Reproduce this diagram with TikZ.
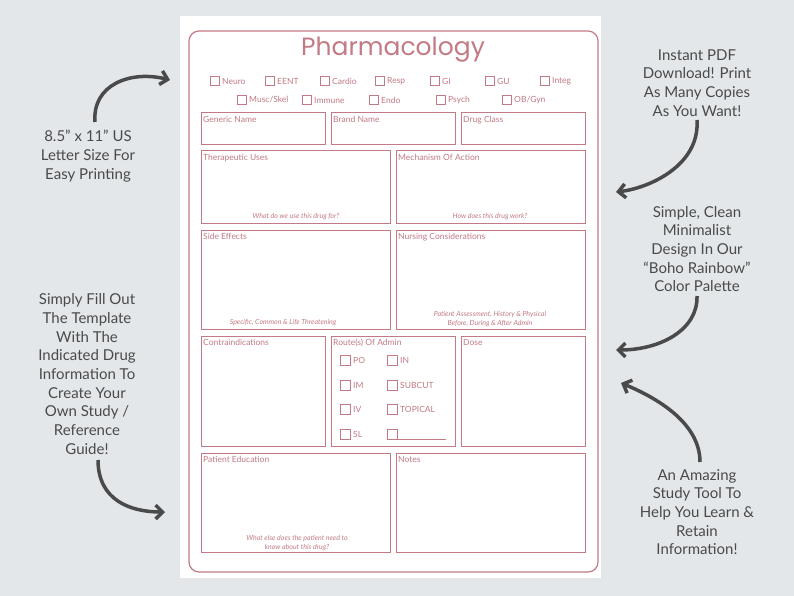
\documentclass[tikz,border=0pt]{standalone}
\usepackage{fontspec}
\setmainfont{Lato}
\newfontfamily\pop{Poppins}
\usetikzlibrary{arrows.meta}
\definecolor{bg}{HTML}{E3E7EA}
\definecolor{pk}{HTML}{C27A84}
\definecolor{dg}{HTML}{4A4A4A}
\begin{document}
\begin{tikzpicture}[x=1pt,y=-1pt,
  box/.style={draw=pk,line width=1pt},
  lab/.style={text=pk,font=\fontsize{8.5}{9}\selectfont,anchor=north west,inner sep=0pt},
  sub/.style={text=pk,font=\fontsize{7}{8.5}\selectfont\itshape,align=center,inner sep=0pt},
  cb/.style={draw=pk,line width=0.8pt,minimum size=9pt,inner sep=0pt},
  cbl/.style={text=pk,font=\fontsize{8.5}{9}\selectfont,anchor=west,inner sep=0pt},
  side/.style={text=dg,font=\fontsize{15}{18.7}\selectfont,align=center},
  arr/.style={draw=dg,line width=3.5pt,-{Straight Barb[length=7pt,width=14pt,line width=3.5pt]}}]
\fill[bg] (0,0) rectangle (794,596);
\useasboundingbox (0,0) rectangle (794,596);
\fill[white] (180,16) rectangle (601,578);
\draw[pk,line width=1.2pt,rounded corners=10pt] (189,31) rectangle (598,572);
\node[text=pk,font=\pop\fontsize{25}{28}\selectfont] (title) at (393,50) {Pharmacology};
% checkboxes row 1
\foreach \x/\t/\n in {215/Neuro/a,270/EENT/b,325/Cardio/c,380/Resp/d,435/GI/e,490/GU/f,545/Integ/g}{
  \node[cb] (cb\n) at (\x,81) {};
  \node[cbl] (cl\n) at (\x+7,81) {\t};}
\foreach \x/\t/\n in {242/{Musc/Skel}/h,307/Immune/i,374/Endo/j,441/Psych/k,507/{OB/Gyn}/l}{
  \node[cb] (cb\n) at (\x,100) {};
  \node[cbl] (cl\n) at (\x+7,100) {\t};}
% boxes
\draw[box] (201,113) rectangle (325,145); \node[lab] (l1) at (203,116) {Generic Name};
\draw[box] (331,113) rectangle (455,145); \node[lab] (l2) at (333,116) {Brand Name};
\draw[box] (461,113) rectangle (585,145); \node[lab] (l3) at (463,116) {Drug Class};
\draw[box] (201,151) rectangle (390,223); \node[lab] (l4) at (203,154) {Therapeutic Uses};
\node[sub] (s4) at (296,217) {What do we use this drug for?};
\draw[box] (396,151) rectangle (585,223); \node[lab] (l5) at (398,154) {Mechanism Of Action};
\node[sub] (s5) at (490,217) {How does this drug work?};
\draw[box] (201,230) rectangle (390,329); \node[lab] (l6) at (203,233) {Side Effects};
\node[sub] (s6) at (283,323) {Specific, Common \& Life Threatening};
\draw[box] (396,230) rectangle (585,329); \node[lab] (l7) at (398,233) {Nursing Considerations};
\node[sub] (s7) at (490,319) {Patient Assessment, History \& Physical\\Before, During \& After Admin};
\draw[box] (201,336) rectangle (325,446); \node[lab] (l8) at (203,339) {Contraindications};
\draw[box] (331,336) rectangle (455,446); \node[lab] (l9) at (333,339) {Route(s) Of Admin};
\draw[box] (461,336) rectangle (585,446); \node[lab] (l10) at (463,339) {Dose};
\foreach \y/\a/\b/\n in {360/PO/IN/1,385/IM/SUBCUT/2,409/IV/TOPICAL/3,434/SL//4}{
  \node[cb,minimum size=10pt] (ra\n) at (345,\y) {};
  \node[cbl] (rla\n) at (353,\y) {\a};
  \node[cb,minimum size=10pt] (rb\n) at (392,\y) {};
  \node[cbl] (rlb\n) at (400,\y) {\b};}
\draw[pk,line width=0.8pt] (398,439) -- (446,439);
\draw[box] (201,453) rectangle (390,552); \node[lab] (l11) at (203,456) {Patient Education};
\node[sub] (s11) at (297,543) {What else does the patient need to\\know about this drug?};
\draw[box] (396,453) rectangle (585,552); \node[lab] (l12) at (398,456) {Notes};
% side texts
\node[side] (t1) at (88,156) {8.5\symbol{34} x 11\symbol{34} US\\Letter Size For\\Easy Printing};
\node[side] (t2) at (87,374) {Simply Fill Out\\The Template\\With The\\Indicated Drug\\Information To\\Create Your\\Own Study /\\Reference\\Guide!};
\node[side] (t3) at (697,83) {Instant PDF\\Download! Print\\As Many Copies\\As You Want!};
\node[side] (t4) at (697,249) {Simple, Clean\\Minimalist\\Design In Our\\“Boho Rainbow”\\Color Palette};
\node[side] (t5) at (697,512) {An Amazing\\Study Tool To\\Help You Learn \&\\Retain\\Information!};
% arrows
\coordinate (a1) at (170,80); \coordinate (a2) at (165,512);
\coordinate (a3) at (616,192); \coordinate (a4) at (616,350); \coordinate (a5) at (621,383);
\draw[arr] (95,122) .. controls (92,85) and (130,70) .. (a1);
\draw[arr] (98,460) .. controls (98,500) and (130,512) .. (a2);
\draw[arr] (697,120) .. controls (700,165) and (650,188) .. (a3);
\draw[arr] (697,296) .. controls (698,330) and (660,350) .. (a4);
\draw[arr] (700,462) .. controls (700,420) and (650,395) .. (a5);
\end{tikzpicture}
\end{document}
